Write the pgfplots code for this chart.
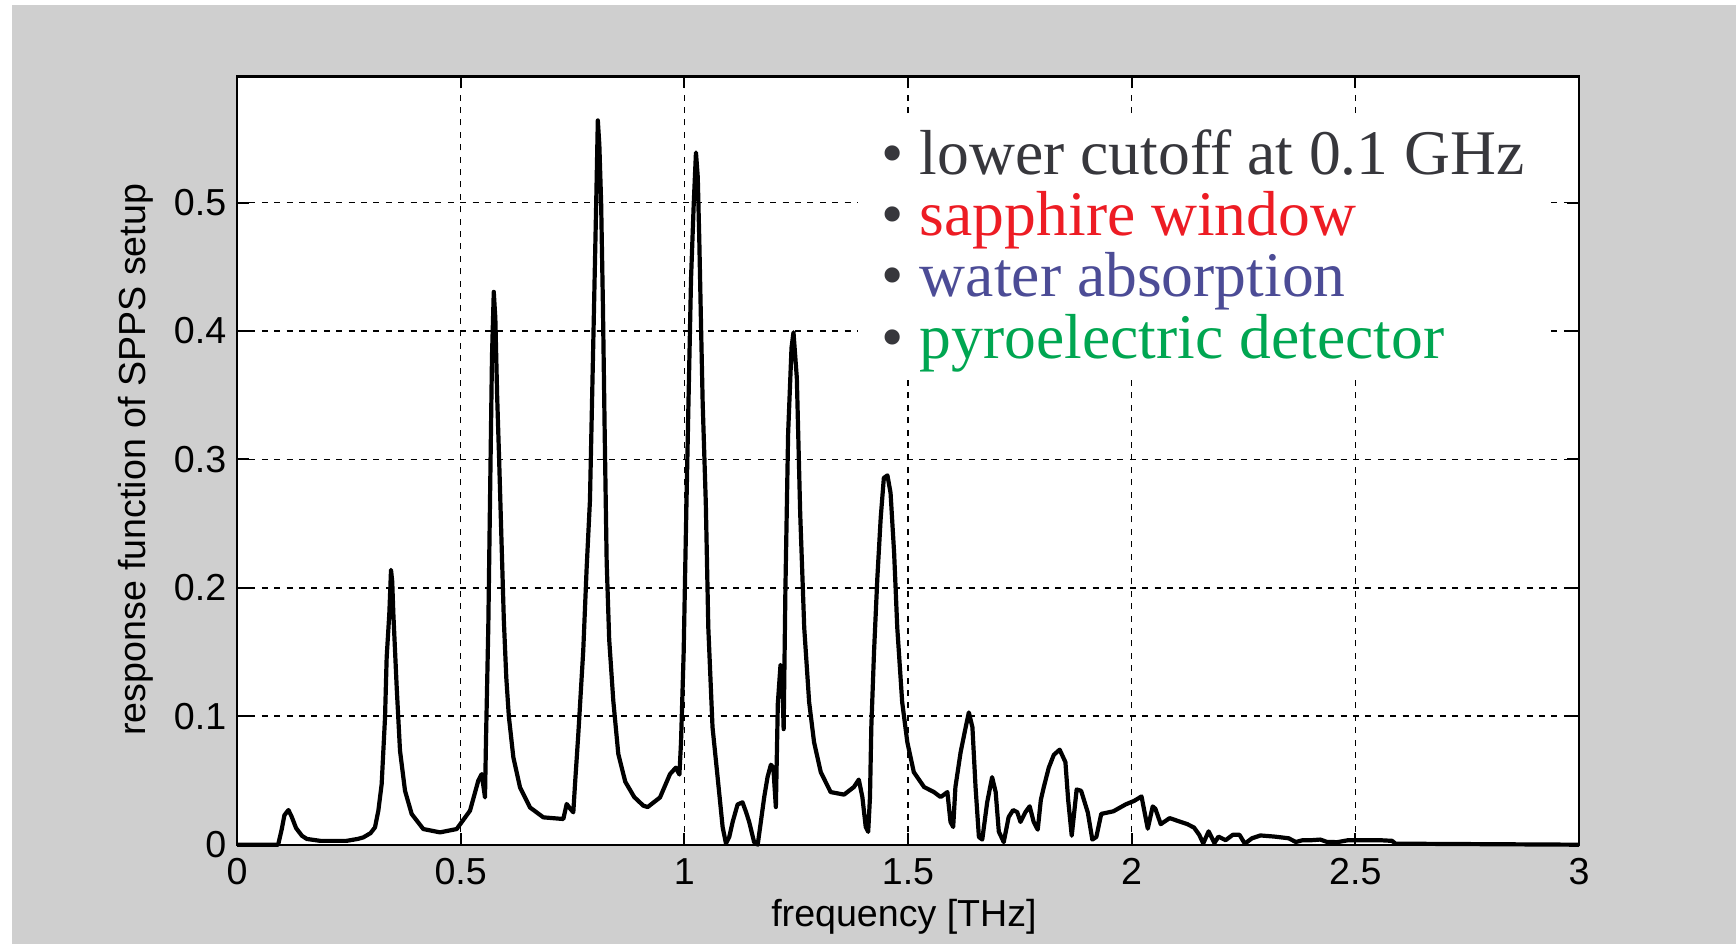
\documentclass[border=0pt]{standalone}
\usepackage{pgfplots}
\pgfplotsset{compat=1.18}
\usepackage{fontspec}
\setmainfont{Liberation Sans}
\newfontfamily\seriffont{Liberation Serif}
\definecolor{bggray}{RGB}{207,207,207}
\definecolor{txtgray}{RGB}{55,55,60}
\definecolor{txtred}{RGB}{237,28,36}
\definecolor{txtblue}{RGB}{76,76,150}
\definecolor{txtgreen}{RGB}{0,166,81}
\pgfplotstableread{
x y
0 0
0.092 0
0.100 0.012
0.106 0.023
0.115 0.027
0.122 0.022
0.132 0.013
0.145 0.007
0.156 0.0045
0.186 0.003
0.245 0.003
0.270 0.0045
0.2824 0.0057
0.2985 0.009
0.3085 0.0135
0.316 0.0265
0.3234 0.0472
0.3309 0.099
0.3346 0.146
0.3405 0.18
0.3443 0.214
0.347 0.205
0.3495 0.18
0.357 0.1225
0.3644 0.0732
0.3756 0.042
0.3905 0.0239
0.4165 0.0122
0.4538 0.0096
0.4911 0.0122
0.5209 0.0265
0.5395 0.05
0.547 0.055
0.5544 0.0368
0.5566 0.081
0.5618 0.17
0.5656 0.268
0.570 0.38
0.574 0.4305
0.5775 0.41
0.5815 0.35
0.586 0.30
0.591 0.24
0.5965 0.175
0.602 0.13
0.6078 0.0995
0.6178 0.068
0.6327 0.0446
0.655 0.029
0.6848 0.0213
0.7295 0.02
0.737 0.0317
0.745 0.028
0.7518 0.0252
0.7556 0.047
0.763 0.0862
0.774 0.151
0.7817 0.216
0.789 0.268
0.797 0.40
0.803 0.50
0.8066 0.564
0.810 0.545
0.814 0.50
0.818 0.42
0.822 0.32
0.8264 0.22
0.832 0.16
0.8412 0.112
0.8524 0.0706
0.868 0.049
0.888 0.0371
0.9083 0.0304
0.918 0.0293
0.9456 0.0368
0.968 0.055
0.981 0.06
0.989 0.0546
0.9926 0.0798
0.9985 0.1497
1.0037 0.2468
1.009 0.34
1.015 0.441
1.021 0.499
1.026 0.539
1.030 0.52
1.0335 0.47
1.037 0.41
1.041 0.344
1.048 0.266
1.0536 0.169
1.063 0.0915
1.0744 0.0526
1.0856 0.0138
1.093 0.001
1.1004 0.006
1.108 0.0177
1.119 0.0313
1.13 0.033
1.138 0.0254
1.145 0.0177
1.156 0.002
1.164 0
1.171 0.0177
1.1786 0.0371
1.186 0.0526
1.1935 0.0623
1.199 0.06
1.2046 0.0293
1.209 0.11
1.215 0.14
1.219 0.13
1.222 0.09
1.226 0.20
1.232 0.32
1.2396 0.387
1.244 0.399
1.2515 0.3633
1.259 0.258
1.268 0.169
1.279 0.111
1.29 0.0798
1.305 0.0565
1.327 0.041
1.357 0.039
1.379 0.0449
1.39 0.0507
1.398 0.0371
1.4055 0.0138
1.411 0.01
1.415 0.037
1.418 0.0915
1.424 0.1497
1.4315 0.208
1.439 0.2546
1.446 0.2856
1.454 0.2876
1.461 0.274
1.469 0.227
1.476 0.169
1.487 0.111
1.4985 0.0798
1.513 0.0565
1.536 0.0449
1.558 0.041
1.573 0.0371
1.588 0.041
1.595 0.0177
1.601 0.0138
1.606 0.0449
1.6176 0.072
1.629 0.0915
1.636 0.103
1.644 0.0915
1.651 0.0449
1.6585 0.006
1.666 0.004
1.677 0.033
1.688 0.0526
1.696 0.041
1.703 0.0102
1.714 0.002
1.725 0.0215
1.735 0.027
1.744 0.0254
1.7515 0.0177
1.7626 0.0254
1.772 0.0299
1.781 0.0177
1.790 0.0117
1.797 0.035
1.8036 0.0449
1.8147 0.06
1.826 0.07
1.839 0.074
1.8519 0.0643
1.858 0.035
1.866 0.007
1.877 0.043
1.887 0.042
1.902 0.025
1.912 0.004
1.921 0.006
1.932 0.024
1.959 0.026
1.9867 0.0314
2.006 0.0342
2.022 0.0376
2.036 0.0125
2.047 0.0298
2.053 0.028
2.065 0.016
2.085 0.0207
2.1 0.0189
2.124 0.0161
2.1395 0.0133
2.151 0.0077
2.16 0.001
2.172 0.0104
2.185 0.0013
2.194 0.0063
2.21 0.0035
2.226 0.0077
2.241 0.0077
2.253 0.0008
2.269 0.005
2.288 0.0072
2.32 0.0063
2.351 0.005
2.367 0.0021
2.382 0.0035
2.402 0.0035
2.4216 0.004
2.437 0.0021
2.46 0.002
2.484 0.0035
2.508 0.0035
2.555 0.0035
2.582 0.003
2.59 0.0008
3.0 0
}\response
\begin{document}
\begin{tikzpicture}
\fill[white] (-59.25pt,-24.825pt) rectangle (374.75pt,211.175pt);
\fill[bggray] (-56.25pt,-24.825pt) rectangle (374.75pt,209.925pt);
\begin{axis}[
  at={(0pt,0pt)}, anchor=south west,
  scale only axis, width=335.5pt, height=192.08pt,
  xmin=0, xmax=3, ymin=0, ymax=0.5983,
  xtick={0,0.5,1,1.5,2,2.5,3},
  ytick={0,0.1,0.2,0.3,0.4,0.5},
  axis background/.style={fill=white},
  axis line style={black, line width=0.6pt},
  tick style={black, line width=0.5pt},
  major tick length=3pt,
  tick align=inside,
  grid=major,
  major grid style={black, line width=0.4pt, dash pattern=on 1.5pt off 1.6pt},
  clip=false,
  /pgf/number format/assume math mode=true,
  ticklabel style={font=\fontsize{9.4}{11}\selectfont, inner sep=0pt},
  xticklabel style={anchor=north, yshift=-3.3pt},
  yticklabel style={anchor=east, xshift=-2.5pt},
  xlabel={frequency [THz]},
  ylabel={response function of SPPS setup},
  label style={font=\fontsize{9.4}{11}\selectfont, inner sep=0pt},
  xlabel style={at={(axis description cs:0.497,-0.1067)}, anchor=base},
  ylabel style={at={(axis description cs:-0.0753,0.501)}, anchor=center},
]
\addplot[black, line width=1.05pt, line join=round] table[x=x, y=y] {\response};
\fill[white] (axis cs:1.388,0.3619) rectangle (axis cs:2.931,0.5683);
\node[anchor=base west, inner sep=0pt, font=\seriffont\fontsize{15.9}{19}\selectfont] at (axis cs:1.4397,0.5215) {\textcolor{txtgray}{\textbullet\ lower cutoff at 0.1 GHz}};
\node[anchor=base west, inner sep=0pt, font=\seriffont\fontsize{15.9}{19}\selectfont] at (axis cs:1.4397,0.474) {\textcolor{txtgray}{\textbullet}\ \textcolor{txtred}{sapphire window}};
\node[anchor=base west, inner sep=0pt, font=\seriffont\fontsize{15.9}{19}\selectfont] at (axis cs:1.4397,0.4267) {\textcolor{txtgray}{\textbullet}\ \textcolor{txtblue}{water absorption}};
\node[anchor=base west, inner sep=0pt, font=\seriffont\fontsize{15.9}{19}\selectfont] at (axis cs:1.4397,0.3788) {\textcolor{txtgray}{\textbullet}\ \textcolor{txtgreen}{pyroelectric detector}};
\end{axis}
\pgfresetboundingbox
\path[use as bounding box] (-59.25pt,-24.825pt) rectangle (374.75pt,211.175pt);
\end{tikzpicture}
\end{document}
